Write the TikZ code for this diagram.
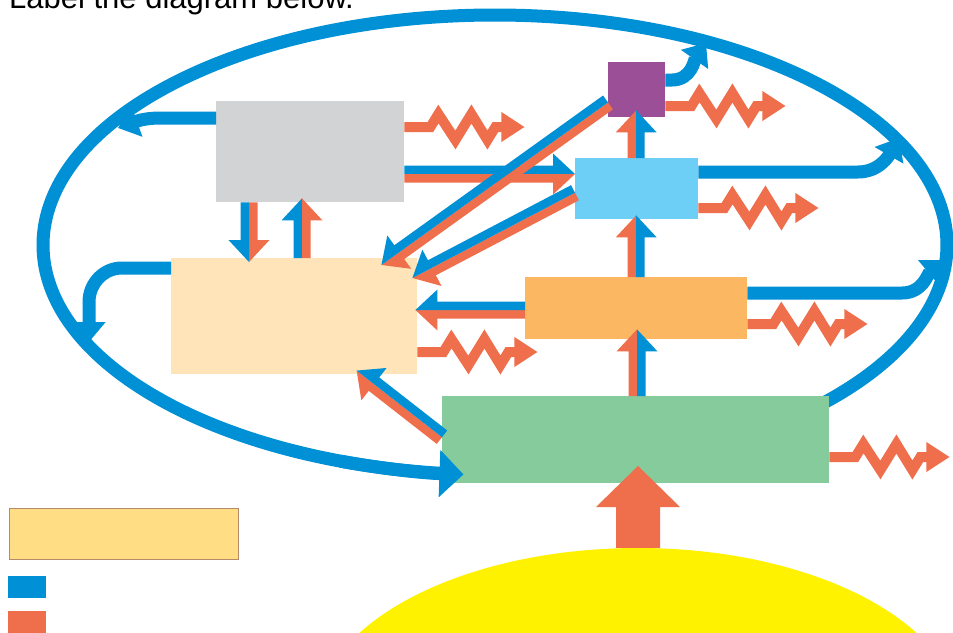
\documentclass[tikz,border=0pt]{standalone}
\usepackage{fontspec}
\setmainfont{Liberation Sans}
\usetikzlibrary{calc,arrows.meta,shapes.geometric}
\definecolor{blueC}{RGB}{0,144,214}
\definecolor{orgC}{RGB}{239,110,76}
\definecolor{grayB}{RGB}{209,211,212}
\definecolor{purpleB}{RGB}{155,79,150}
\definecolor{lbB}{RGB}{109,207,246}
\definecolor{orB}{RGB}{251,183,98}
\definecolor{beigeB}{RGB}{254,228,184}
\definecolor{greenB}{RGB}{134,203,156}
\definecolor{legB}{RGB}{254,221,132}
\definecolor{legD}{RGB}{179,139,102}
\definecolor{sunY}{RGB}{255,242,0}
% half arrow: #1 start, #2 end, #3 colour, #4 side (1 = left of travel, -1 = right), #5 shaft half width, #6 head half width, #7 head length
\newcommand\halfarr[7]{%
  \path let \p1=($(#2)-(#1)$) in \pgfextra{%
    \pgfmathsetmacro\hatmpL{veclen(\x1,\y1)}%
    \pgfmathsetmacro\hatmpA{atan2(\y1,\x1)}%
    \xdef\haL{\hatmpL}\xdef\haA{\hatmpA}};
  \pgfmathsetmacro\haB{\haL-#7}%
  \pgfmathsetmacro\haS{#4*#5}%
  \pgfmathsetmacro\haH{#4*#6}%
  \fill[#3, shift={(#1)}, rotate=\haA] (0pt,0pt) -- (\haL pt,0pt) -- (\haB pt,\haH pt) -- (\haB pt,\haS pt) -- (0pt,\haS pt) -- cycle;}
\newcommand\duoarrow[4]{\halfarr{#1}{#2}{#3}{1}{8.5}{20.5}{22}\halfarr{#1}{#2}{#4}{-1}{8.5}{20.5}{22}}
\newcommand\heatarrow[1]{%
  \begin{scope}[shift={(#1)}]
    \draw[heatline] (0,0) -- (26,0) -- (34,-13) -- (51,13) -- (67,-13) -- (83,13) -- (91,0) -- (100,0);
    \fill[orgC] (97,-15) -- (120,0) -- (97,15) -- cycle;
  \end{scope}}
\begin{document}
\begin{tikzpicture}[x=1pt,y=-1pt,
  box/.style={rectangle, inner sep=0pt, anchor=north west, draw=none},
  heatline/.style={draw=orgC, line width=10pt, line join=miter},
  retarrow/.style={draw=blueC, line width=13pt, -{Triangle[width=32pt,length=20pt]}},
  ringpath/.style={draw=blueC, line width=13pt},
  ringtip/.style={draw=blueC, line width=13pt, -{Triangle[width=46pt,length=24pt]}}]
\useasboundingbox (0,0) rectangle (953,632);
\clip (0,0) rectangle (953,632);
\fill[white] (0,0) rectangle (953,632);

\node[anchor=base west, font=\fontsize{31}{36}\selectfont, inner sep=0pt] (title) at (9,8) {Label the diagram below.};

% big loop (elliptical; drawn behind the boxes, its arrowhead redrawn on top)
\coordinate (ringc) at (495,245);
\coordinate (ringstart) at ($(ringc)+(-48:452pt and 230pt)$);
\coordinate (ringlast) at ($(ringc)+(250:452pt and 230pt)$);
\draw[ringpath] (ringstart) arc[start angle=-48, end angle=266, x radius=452pt, y radius=230pt];

% boxes
\node[box, fill=grayB, minimum width=188pt, minimum height=101pt] (gray) at (216,101) {};
\node[box, fill=purpleB, minimum width=57pt, minimum height=55pt] (purple) at (608,62) {};
\node[box, fill=lbB, minimum width=123pt, minimum height=61pt] (lb) at (575,158) {};
\node[box, fill=orB, minimum width=222pt, minimum height=62pt] (orb) at (525,277) {};
\node[box, fill=beigeB, minimum width=246pt, minimum height=116pt] (beige) at (171,258) {};
\node[box, fill=greenB, minimum width=387pt, minimum height=87pt] (green) at (442,396) {};
\node[ellipse, fill=sunY, inner sep=0pt, minimum width=646pt, minimum height=344pt] (sun) at (638,720) {};

% legend
\node[box, fill=legB, draw=legD, line width=1.5pt, minimum width=229pt, minimum height=51pt] (legend) at (8.5,507.5) {};
\node[box, fill=blueC, minimum width=38pt, minimum height=22pt] (legblue) at (8,576) {};
\node[box, fill=orgC, minimum width=38pt, minimum height=30pt] (legorange) at (8,611) {};

% arrowhead of the loop, over the green box
\draw[ringtip] (ringlast) arc[start angle=250, end angle=266, x radius=452pt, y radius=230pt];

% two-colour arrows
\duoarrow{gray.east |- 0,174}{lb.west |- 0,174}{blueC}{orgC}
\duoarrow{gray.south -| 249,0}{$(beige.north -| 249,0)+(0,4)$}{orgC}{blueC}
\duoarrow{beige.north -| 302,0}{$(gray.south -| 302,0)+(0,-4)$}{blueC}{orgC}
\duoarrow{$(lb.west)+(0,4)$}{$(beige.north east)+(-5,20)$}{orgC}{blueC}
\duoarrow{$(purple.south west)+(0,-15)$}{$(beige.north east)+(-36,7)$}{orgC}{blueC}
\duoarrow{orb.west |- 0,310}{$(beige.east |- 0,310)+(-2,0)$}{orgC}{blueC}
\duoarrow{orb.north}{$(orb.north |- lb.south)+(0,-4)$}{orgC}{blueC}
\duoarrow{lb.north -| orb.north}{$(purple.south -| orb.north)+(0,-7)$}{orgC}{blueC}
\duoarrow{green.north -| 637,0}{$(orb.south -| 637,0)+(0,-10)$}{orgC}{blueC}
\duoarrow{$(green.west)+(0,-2.5)$}{$(beige.south east)+(-61,-4)$}{orgC}{blueC}

% energy from the sun
\coordinate (suntip) at (638,466);
\halfarr{sun.north}{suntip}{orgC}{1}{22}{42}{41}
\halfarr{sun.north}{suntip}{orgC}{-1}{22}{42}{41}

% heat losses
\heatarrow{gray.east |- 0,127}
\heatarrow{purple.east |- 0,106}
\heatarrow{lb.east |- 0,208}
\heatarrow{orb.east |- 0,324}
\heatarrow{beige.east |- 0,352}
\heatarrow{green.east |- 0,457}

% returns into the loop
\coordinate (rg) at (118,128);
\coordinate (rb) at (89,342);
\coordinate (rp) at (706,43);
\coordinate (rl) at (899,138);
\coordinate (ro) at (944,260);
\draw[retarrow] (gray.west |- 0,118) -- (160,118) to[out=180,in=20] (rg);
\draw[retarrow] (beige.west |- 0,268) -- (122,268) to[out=180,in=90] (89,302) -- (rb);
\draw[retarrow] (purple.east |- 0,80) -- (672,80) to[out=0,in=235] (rp);
\draw[retarrow] (lb.east |- 0,172) -- (858,172) to[out=0,in=240] (rl);
\draw[retarrow] (orb.east |- 0,293) -- (902,293) to[out=0,in=220] (ro);
\end{tikzpicture}
\end{document}
